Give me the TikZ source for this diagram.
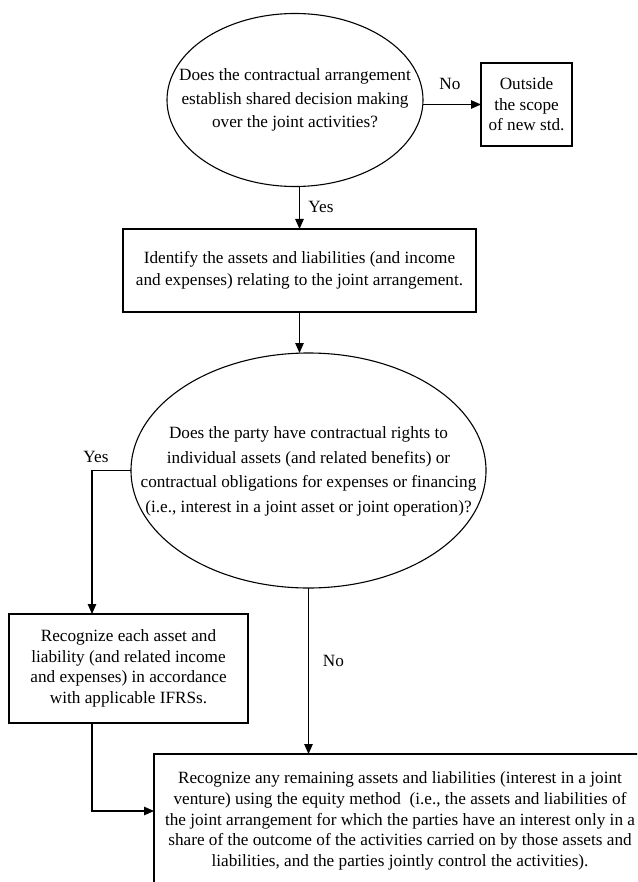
\documentclass[tikz,border=0pt]{standalone}
\usepackage{fontspec}
\setmainfont{Liberation Serif}
\usetikzlibrary{shapes.geometric,arrows.meta,calc}
\begin{document}
\begin{tikzpicture}[x=1pt,y=-1pt,
  every node/.style={inner sep=0pt, outer sep=0pt},
  txt/.style={align=center, font=\fontsize{17.2}{#1}\selectfont},
  txt/.default=20.8,
  stepbox/.style={draw, rectangle, line width=1.1pt},
  decision/.style={draw, ellipse, line width=1.1pt},
  lbl/.style={font=\fontsize{17.2}{20}\selectfont},
  arr/.style={line width=1.1pt, -{Triangle[length=10pt,width=8.5pt]}}]

\fill[white] (0,0) rectangle (637,882);
\useasboundingbox (0,0) rectangle (637,882);
\clip (0,0) rectangle (637,882);

% first decision
\node[decision, minimum width=256pt, minimum height=173pt] (q1) at (295,100) {};
\node[txt=23.5] (q1t) at (q1) {Does the contractual arrangement\\establish shared decision making\\over the joint activities?};

\node[stepbox, minimum width=91pt, minimum height=83pt, txt=20.5] (out) at (526.5,104.5)
  {Outside\\the scope\\of new std.};

\node[stepbox, minimum width=353pt, minimum height=83pt, txt=22.3] (b2) at (299.5,270.5)
  {Identify the assets and liabilities (and income\\and expenses) relating to the joint arrangement.};

% second decision
\node[decision, minimum width=355pt, minimum height=235pt] (q2) at (308.5,470.5) {};
\node[txt=24.5] (q2t) at (308.5,471.5) {Does the party have contractual rights to\\individual assets (and related benefits) or\\contractual obligations for expenses or financing\\(i.e., interest in a joint asset or joint operation)?};

\node[stepbox, minimum width=239pt, minimum height=109pt, txt=20.7] (b3) at (128.5,668.5)
  {Recognize each asset and\\liability (and related income\\and expenses) in accordance\\with applicable IFRSs.};

\node[stepbox, minimum width=492pt, minimum height=134pt, txt=20.8] (b4) at (400,821)
  {Recognize any remaining assets and liabilities (interest in a joint\\venture) using the equity method\ \ (i.e., the assets and liabilities of\\the joint arrangement for which the parties have an interest only in a\\share of the outcome of the activities carried on by those assets and\\liabilities, and the parties jointly control the activities).};

% branch labels
\node[lbl] (no1) at (450,84) {No};
\node[lbl] (yes1) at (321,207) {Yes};
\node[lbl] (yes2) at (96,457) {Yes};
\node[lbl] (no2) at (333.5,661) {No};

% connectors
\draw[arr] (q1.east |- out.west) -- (out.west);
\draw[arr] (q1.south -| b2.north) -- (b2.north);
\draw[arr] (b2.south) -- (b2.south |- q2.north);
\draw[arr] (q2.west) -| ([xshift=-36.5pt]b3.north);
\draw[arr] (q2.south) -- (q2.south |- b4.north);
\draw[arr] ([xshift=-36.5pt]b3.south) |- ([yshift=10pt]b4.west);

\end{tikzpicture}
\end{document}
